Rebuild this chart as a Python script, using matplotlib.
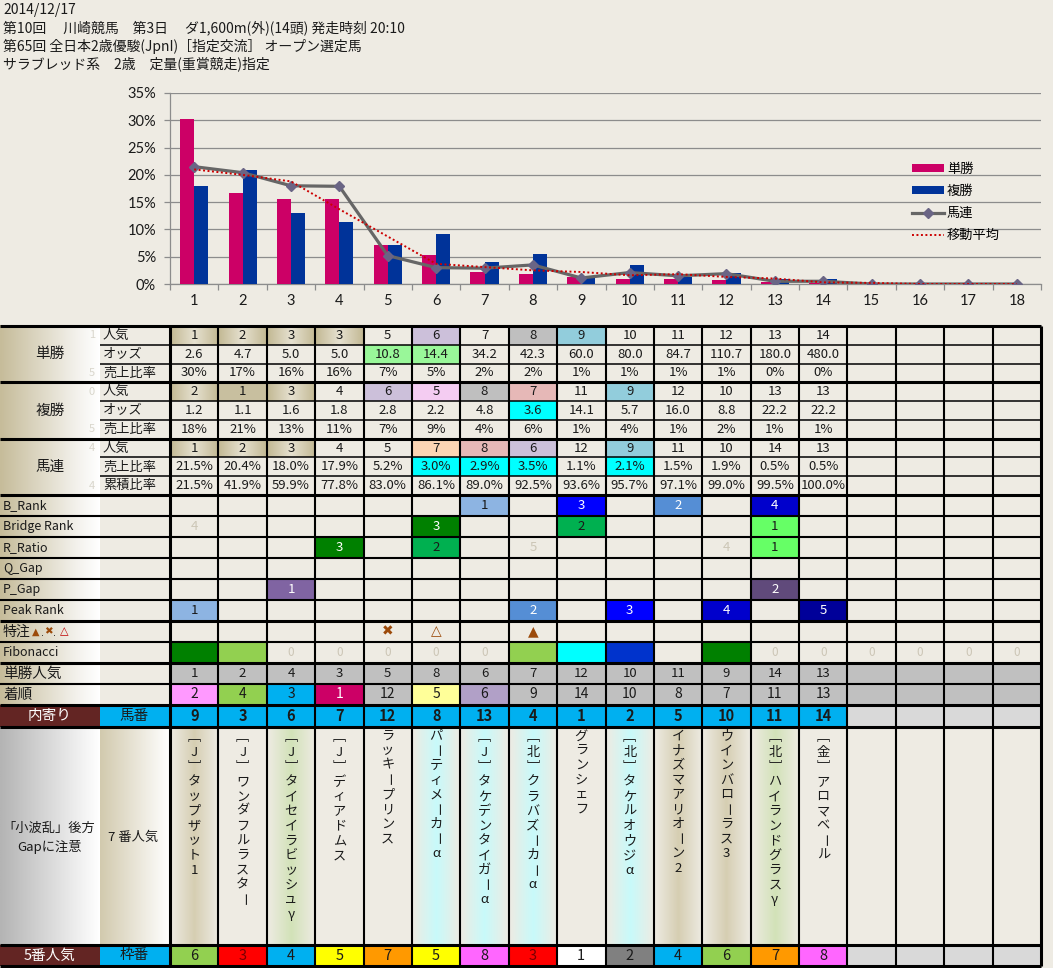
import numpy as np
import matplotlib
matplotlib.use('Agg')
import matplotlib.pyplot as plt
from matplotlib.patches import Rectangle
from matplotlib.colors import to_rgb

plt.rcParams['font.family'] = ['Noto Sans CJK JP', 'DejaVu Sans']

# ---------------- data ----------------
positions = list(range(1, 19))
tan_share = [30.3, 16.7, 15.6, 15.6, 7.2, 5.3, 2.2, 1.8, 1.3, 0.9, 0.9, 0.7, 0.35, 0.2, 0, 0, 0, 0]
fuku_share = [18.0, 20.9, 13.0, 11.4, 7.2, 9.2, 4.1, 5.5, 1.2, 3.5, 1.2, 2.1, 0.9, 0.9, 0, 0, 0, 0]
umaren_share = [21.5, 20.4, 18.0, 17.9, 5.2, 3.0, 2.9, 3.5, 1.1, 2.1, 1.5, 1.9, 0.5, 0.5, 0, 0, 0, 0]
moving_avg = [21.0, 20.0, 18.8, 13.7, 8.7, 3.7, 3.1, 2.5, 2.2, 1.6, 1.8, 1.3, 1.0, 0.3, 0.2, 0, 0, 0]
legend_labels = ['単勝', '複勝', '馬連', '移動平均']
ytick_labels = ['0%', '5%', '10%', '15%', '20%', '25%', '30%', '35%']

header_lines = [
    '2014/12/17',
    '第10回　 川崎競馬　第3日　 ダ1,600m(外)(14頭) 発走時刻 20:10',
    '第65回 全日本2歳優駿(JpnI)［指定交流］ オープン選定馬',
    'サラブレッド系　2歳　定量(重賞競走)指定',
]

tan_pop = [1, 2, 3, 3, 5, 6, 7, 8, 9, 10, 11, 12, 13, 14]
tan_odds = [2.6, 4.7, 5.0, 5.0, 10.8, 14.4, 34.2, 42.3, 60.0, 80.0, 84.7, 110.7, 180.0, 480.0]
tan_ratio = [30, 17, 16, 16, 7, 5, 2, 2, 1, 1, 1, 1, 0, 0]
fuku_pop = [2, 1, 3, 4, 6, 5, 8, 7, 11, 9, 12, 10, 13, 13]
fuku_odds = [1.2, 1.1, 1.6, 1.8, 2.8, 2.2, 4.8, 3.6, 14.1, 5.7, 16.0, 8.8, 22.2, 22.2]
fuku_ratio = [18, 21, 13, 11, 7, 9, 4, 6, 1, 4, 1, 2, 1, 1]
umaren_pop = [1, 2, 3, 4, 5, 7, 8, 6, 12, 9, 11, 10, 14, 13]
umaren_ratio = [21.5, 20.4, 18.0, 17.9, 5.2, 3.0, 2.9, 3.5, 1.1, 2.1, 1.5, 1.9, 0.5, 0.5]
umaren_cum = [21.5, 41.9, 59.9, 77.8, 83.0, 86.1, 89.0, 92.5, 93.6, 95.7, 97.1, 99.0, 99.5, 100.0]

tan_pop_row = [1, 2, 4, 3, 5, 8, 6, 7, 12, 10, 11, 9, 14, 13]
finish = [2, 4, 3, 1, 12, 5, 6, 9, 14, 10, 8, 7, 11, 13]
horse_no = [9, 3, 6, 7, 12, 8, 13, 4, 1, 2, 5, 10, 11, 14]
waku = [6, 3, 4, 5, 7, 5, 8, 3, 1, 2, 4, 6, 7, 8]
names = ['［J］タップザット1', '［J］ワンダフルラスター', '［J］タイセイラビッシュγ', '［J］ディアドムス',
         'ラッキープリンス', 'パーティメーカーα', '［J］タケデンタイガーα', '［北］クラバズーカーα',
         'グランシェフ', '［北］タケルオウジα', 'イナズマアリオーン2', 'ウインバローラス3',
         '［北］ハイランドグラスγ', '［金］アロマベール']

# sparse marker rows: column -> value
b_rank = {6: 1, 8: 3, 10: 2, 12: 4}
bridge_rank = {0: 4, 5: 3, 8: 2, 12: 1}
r_ratio = {3: 3, 5: 2, 7: 5, 11: 4, 12: 1}
p_gap = {2: 1, 12: 2}
peak_rank = {0: 1, 7: 2, 9: 3, 11: 4, 13: 5}
tokuchu = {4: '✖', 5: '△', 7: '▲'}

# ---------------- styles ----------------
W, H = 1053, 968
BG = '#EEEBE3'
FAINT = '#CCC6B6'
TXT = '#1a1a1a'
NCOL = 18
COL_L, COL_R = 170, 1041
CW = (COL_R - COL_L) / NCOL
VERT = {'［': '﹇', '］': '﹈'}

fig = plt.figure(figsize=(W / 100, H / 100), dpi=100, facecolor=BG)
axt = fig.add_axes([0, 0, 1, 1], zorder=0)
axt.set_facecolor(BG)
axt.axis('off')


def cx(i):
    return COL_L + (i + 0.5) * CW


def rect(x0, y0, x1, y1, c, z=1):
    axt.add_patch(Rectangle((x0, y0), x1 - x0, y1 - y0, facecolor=c, edgecolor='none', zorder=z))


def hgrad(x0, y0, x1, y1, stops, z=1):
    t = np.linspace(0, 1, 64)
    pos = [s[0] for s in stops]
    cols = np.array([to_rgb(s[1]) for s in stops])
    arr = np.stack([np.interp(t, pos, cols[:, k]) for k in range(3)], axis=-1)[None, :, :]
    axt.imshow(arr, extent=(x0, x1, y1, y0), aspect='auto', interpolation='bilinear', zorder=z)


def txt(x, y, s, size=9, color=TXT, ha='center', weight='normal', **kw):
    axt.text(x, y, s, ha=ha, va='center', fontsize=size, color=color, fontweight=weight, zorder=5, **kw)


def hline(y, x0, x1, lw):
    axt.plot([x0, x1], [y, y], color='black', lw=lw, solid_capstyle='butt', zorder=4)


def vline(x, y0, y1, lw):
    axt.plot([x, x], [y0, y1], color='black', lw=lw, solid_capstyle='butt', zorder=4)


# ---------------- header ----------------
for k, line in enumerate(header_lines):
    txt(3, 10 + 18 * k, line, size=10, ha='left')

# ---------------- chart ----------------
ax = fig.add_axes([COL_L / W, 1 - 284 / H, (COL_R - COL_L) / W, (284 - 93) / H], zorder=2)
ax.set_facecolor(BG)
xs = np.array(positions, dtype=float)
bw = 0.29
b1 = ax.bar(xs - bw / 2, np.array(tan_share) / 100, bw, color='#CC0066', zorder=3)
b2 = ax.bar(xs + bw / 2, np.array(fuku_share) / 100, bw, color='#003399', zorder=3)
l1, = ax.plot(xs, np.array(umaren_share) / 100, color='#666666', lw=2.3, marker='D', ms=5,
              mfc='#6A6585', mec='#6A6585', zorder=4)
l2, = ax.plot(xs, np.array(moving_avg) / 100, color='#CC0000', lw=1.4, ls=(0, (1, 1.3)), zorder=5)
ax.set_xlim(0.5, 18.5)
ax.set_ylim(0, 0.35)
ax.set_yticks(np.arange(0, 0.351, 0.05))
ax.set_yticklabels(ytick_labels, fontfamily='Lato', fontsize=10.5, color=TXT)
ax.yaxis.grid(True, color='#8C8C8C', lw=0.9)
ax.set_axisbelow(True)
for s in ['top', 'right']:
    ax.spines[s].set_visible(False)
for s in ['left', 'bottom']:
    ax.spines[s].set_color('#8C8C8C')
    ax.spines[s].set_linewidth(0.9)
ax.set_xticks(np.arange(0.5, 18.6, 1))
ax.set_xticklabels([])
ax.set_xticks(xs, minor=True)
ax.set_xticklabels([str(p) for p in positions], minor=True, fontfamily='Lato', fontsize=10.5, color=TXT)
ax.tick_params(axis='x', which='major', length=4, color='#8C8C8C', width=0.9)
ax.tick_params(axis='x', which='minor', length=0, pad=7)
ax.tick_params(axis='y', length=4, color='#8C8C8C', width=0.9, pad=6)
ax.legend([b1, b2, l1, l2], legend_labels, loc='upper left',
          bbox_to_anchor=((912 - COL_L) / (COL_R - COL_L), (284 - 163) / 191),
          frameon=False, fontsize=9.5, handlelength=2.4, handleheight=0.55, labelspacing=0.68,
          handletextpad=0.25, borderaxespad=0, borderpad=0)

# ---------------- table ----------------
TAN_EDGE, TAN_MID = '#C2B893', '#E6E1D0'
LABEL_GRAD = [(0, '#C6BC9A'), (0.75, '#F2F0EA'), (1, '#FFFFFF')]
T0 = 326
RH = (495 - T0) / 9
top_rows = [T0 + RH * k for k in range(10)]
LOW0 = 495
LH = (705 - LOW0) / 10
low_rows = [LOW0 + LH * k for k in range(11)]
NUM = 9.5

rect(0, T0, COL_R, 966, BG, z=0.5)

# --- group label cells ---
groups = [('単勝', ['人気', 'オッズ', '売上比率'], ['1', '', '5']),
          ('複勝', ['人気', 'オッズ', '売上比率'], ['0', '', '5']),
          ('馬連', ['人気', '売上比率', '累積比率'], ['4', '', '4'])]
for g, (gname, subs, faint) in enumerate(groups):
    y0 = top_rows[3 * g]
    y1 = top_rows[3 * g + 3]
    hgrad(0, y0, 100, y1, LABEL_GRAD)
    txt(50, (y0 + y1) / 2, gname, size=10.5)
    for k in range(3):
        yc = (top_rows[3 * g + k] + top_rows[3 * g + k + 1]) / 2
        txt(103, yc, subs[k], size=9.5, ha='left')
        if faint[k]:
            txt(92, yc, faint[k], size=8, color='#D9D6CC')

tan_pop_fill = ['tan', 'tan', 'tan', 'tan', None, '#CCC0DA', None, '#BFBFBF', '#92CDDC']
fuku_pop_fill = ['tan', 'solid', 'tan', None, '#CCC0DA', '#F4CCF2', '#BFBFBF', '#E6B8B7', None, '#92CDDC']
umaren_pop_fill = ['tan', 'tan', 'tan', None, None, '#FCD5B4', '#E6B8B7', '#CCC0DA', None, '#92CDDC']
tan_odds_fill = {4: '#99F799', 5: '#99F799'}
fuku_odds_fill = {7: '#00FFFF'}
umaren_ratio_fill = {5: '#00FFFF', 6: '#00FFFF', 7: '#00FFFF', 9: '#00FFFF'}

top_data = [
    (tan_pop, lambda v: str(v), tan_pop_fill),
    (tan_odds, lambda v: f'{v:.1f}', tan_odds_fill),
    (tan_ratio, lambda v: f'{v}%', {}),
    (fuku_pop, lambda v: str(v), fuku_pop_fill),
    (fuku_odds, lambda v: f'{v:.1f}', fuku_odds_fill),
    (fuku_ratio, lambda v: f'{v}%', {}),
    (umaren_pop, lambda v: str(v), umaren_pop_fill),
    (umaren_ratio, lambda v: f'{v:.1f}%', umaren_ratio_fill),
    (umaren_cum, lambda v: f'{v:.1f}%', {}),
]
for r, (vals, fmt, fills) in enumerate(top_data):
    y0, y1 = top_rows[r], top_rows[r + 1]
    for i, v in enumerate(vals):
        x0, x1 = COL_L + i * CW, COL_L + (i + 1) * CW
        f = fills[i] if isinstance(fills, list) and i < len(fills) else (fills.get(i) if isinstance(fills, dict) else None)
        if f == 'tan':
            hgrad(x0, y0, x1, y1, [(0, TAN_EDGE), (0.5, TAN_MID), (1, TAN_EDGE)])
        elif f == 'solid':
            rect(x0, y0, x1, y1, '#C8BF9F')
        elif f:
            rect(x0, y0, x1, y1, f)
        txt(cx(i), (y0 + y1) / 2, fmt(v), size=NUM)

# --- lower rows ---
low_labels = ['B_Rank', 'Bridge Rank', 'R_Ratio', 'Q_Gap', 'P_Gap', 'Peak Rank', '特注', 'Fibonacci',
              '単勝人気', '着順']
for r, lab in enumerate(low_labels):
    y0, y1 = low_rows[r], low_rows[r + 1]
    hgrad(0, y0, 100, y1, LABEL_GRAD)
    size = 10.5 if r >= 8 else (10 if r == 6 else 9)
    txt(3, (y0 + y1) / 2, lab, size=size, ha='left')
# tokuchu legend symbols
yc6 = (low_rows[6] + low_rows[7]) / 2
txt(36, yc6, '▲', size=7, color='#9C4A0A', family=['DejaVu Sans'])
txt(42, yc6 + 2, '.', size=7, family=['DejaVu Sans'])
txt(48, yc6, '✖', size=7.5, color='#9C4A0A', family=['DejaVu Sans'])
txt(54, yc6 + 2, '.', size=7, family=['DejaVu Sans'])
txt(64, yc6, '△', size=8, color='#C00000', family=['DejaVu Sans'], weight='bold')


def cell(i, r, fill=None, s=None, color=TXT, size=NUM, weight='normal', family=None):
    y0, y1 = low_rows[r], low_rows[r + 1]
    x0, x1 = COL_L + i * CW, COL_L + (i + 1) * CW
    if fill:
        rect(x0, y0, x1, y1, fill)
    if s is not None:
        kw = {'family': family} if family else {}
        txt(cx(i), (y0 + y1) / 2, s, size=size, color=color, weight=weight, **kw)


b_fill = {1: ('#8DB4E2', TXT), 2: ('#558ED5', 'white'), 3: ('#0000FF', 'white'), 4: ('#0000CC', 'white')}
for i, v in b_rank.items():
    cell(i, 0, b_fill[v][0], str(v), b_fill[v][1])
br_fill = {1: ('#66FF66', TXT), 2: ('#00B050', TXT), 3: ('#008000', 'white'), 4: (None, FAINT)}
for i, v in bridge_rank.items():
    cell(i, 1, br_fill[v][0], str(v), br_fill[v][1])
rr_fill = {1: ('#66FF66', TXT), 2: ('#00B050', TXT), 3: ('#008000', 'white'), 4: (None, FAINT), 5: (None, FAINT)}
for i, v in r_ratio.items():
    cell(i, 2, rr_fill[v][0], str(v), rr_fill[v][1])
pg_fill = {1: '#8064A2', 2: '#604A7B'}
for i, v in p_gap.items():
    cell(i, 4, pg_fill[v], str(v), 'white')
pk_fill = {1: ('#8DB4E2', TXT), 2: ('#558ED5', 'white'), 3: ('#0000FF', 'white'), 4: ('#0000CC', 'white'),
           5: ('#000099', 'white')}
for i, v in peak_rank.items():
    cell(i, 5, pk_fill[v][0], str(v), pk_fill[v][1])
for i, v in tokuchu.items():
    cell(i, 6, None, v, '#9C4A0A', size=10, family=['DejaVu Sans'],
         weight='bold' if v == '△' else 'normal')
fib_fill = ['#008000', '#92D050', 0, 0, 0, 0, 0, '#92D050', '#00FFFF', '#0033CC', None, '#008000',
            0, 0, 0, 0, 0, 0]
for i, f in enumerate(fib_fill):
    if f == 0:
        cell(i, 7, None, '0', FAINT, size=8.5)
    elif f:
        cell(i, 7, f)
for i in range(NCOL):
    cell(i, 8, '#C0C0C0', str(tan_pop_row[i]) if i < len(tan_pop_row) else None)
fin_fill = {1: ('#CC0066', 'white'), 2: ('#FF99FF', TXT), 3: ('#00B0F0', TXT), 4: ('#92D050', TXT),
            5: ('#FFFF99', TXT), 6: ('#B1A0C7', TXT)}
for i in range(NCOL):
    if i < len(finish):
        f, c = fin_fill.get(finish[i], ('#C0C0C0', TXT))
        cell(i, 9, f, str(finish[i]), c, size=10)
    else:
        cell(i, 9, '#C0C0C0')

# --- 馬番 row ---
y0, y1 = 705, 727
rect(0, y0, 100, y1, '#632523')
rect(100, y0, COL_L, y1, '#00B0F0')
txt(50, (y0 + y1) / 2, '内寄り', size=10.5, color='white')
txt(134, (y0 + y1) / 2, '馬番', size=10.5)
for i in range(NCOL):
    x0, x1 = COL_L + i * CW, COL_L + (i + 1) * CW
    if i < len(horse_no):
        rect(x0, y0, x1, y1, '#00B0F0')
        txt(cx(i), (y0 + y1) / 2, str(horse_no[i]), size=10.5, weight='bold')
    else:
        rect(x0, y0, x1, y1, '#D9D9D9')

# --- names row ---
y0, y1 = 727, 945
hgrad(0, y0, 100, y1, [(0, '#B4B4B4'), (1, '#FFFFFF')])
hgrad(100, y0, COL_L, y1, [(0, '#D2CAAE'), (1, '#FFFFFF')])
txt(49, 828, '「小波乱」後方', size=9.5)
txt(49, 847, 'Gapに注意', size=9.5)
txt(133, 837, '7 番人気', size=9.5)
center_col = {'α': '#C8FAFA', 'γ': '#D2E2B8'}
for i in range(NCOL):
    x0, x1 = COL_L + i * CW, COL_L + (i + 1) * CW
    if i < len(names):
        nm = names[i]
        last = nm[-1]
        if last in center_col:
            mid = center_col[last]
        elif last.isdigit():
            mid = '#D6CEB2'
        else:
            mid = None
        if mid:
            hgrad(x0, y0, x1, y1, [(0, BG), (0.5, mid), (1, BG)])
        ystart = 738 if nm[0] == '［' else 736
        for k, ch in enumerate(nm):
            rot = -90 if ch == 'ー' else 0
            txt(cx(i), ystart + 14.7 * k, VERT.get(ch, ch), size=9.5, rotation=rot)

# --- 枠番 row ---
y0, y1 = 945, 966
rect(0, y0, 100, y1, '#632523')
rect(100, y0, COL_L, y1, '#00B0F0')
txt(50, (y0 + y1) / 2, '5番人気', size=10.5, color='white')
txt(134, (y0 + y1) / 2, '枠番', size=10.5)
waku_col = {1: '#FFFFFF', 2: '#808080', 3: '#FF0000', 4: '#00B0F0', 5: '#FFFF00', 6: '#92D050',
            7: '#FF9900', 8: '#FF66FF'}
for i in range(NCOL):
    x0, x1 = COL_L + i * CW, COL_L + (i + 1) * CW
    if i < len(waku):
        rect(x0, y0, x1, y1, waku_col[waku[i]])
        txt(cx(i), (y0 + y1) / 2, str(waku[i]), size=10.5, color='#7A0000' if waku[i] == 3 else TXT)
    else:
        rect(x0, y0, x1, y1, '#D9D9D9')

# --- grid lines ---
THICK, MID, THIN = 2.2, 1.5, 1.1
for k, y in enumerate(top_rows):
    if k % 3 == 0:
        hline(y, 0, COL_R, THICK)
    else:
        hline(y, 100, COL_R, THIN)
for k, y in enumerate(low_rows[1:], start=1):
    lw = THICK if k in (6, 8, 10) else MID
    hline(y, 0, COL_R, lw)
hline(727, 0, COL_R, THICK)
hline(945, 0, COL_R, THICK)
hline(966, 0, COL_R, THICK)
for j in range(NCOL + 1):
    x = COL_L + j * CW
    vline(x, T0, 966, MID if 0 < j < NCOL else THICK)

axt.set_xlim(0, W)
axt.set_ylim(H, 0)

fig.savefig('out.png', dpi=100, facecolor=BG)
